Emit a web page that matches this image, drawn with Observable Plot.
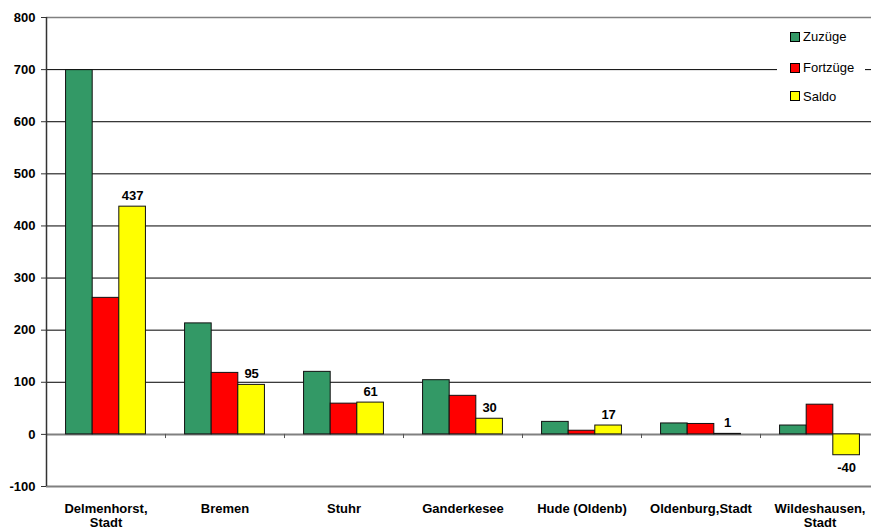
<!DOCTYPE html>
<html>
<head>
<meta charset="utf-8">
<script src="https://cdn.jsdelivr.net/npm/d3@7"></script>
<script src="https://cdn.jsdelivr.net/npm/@observablehq/plot@0.6"></script>
<style>
  html, body { margin: 0; padding: 0; background: #fff; }
  #wrap { position: relative; width: 871px; height: 529px; overflow: hidden; font-family: "Liberation Sans", Arial, sans-serif; }
  #wrap > svg { max-width: none !important; width: 879px !important; height: 529px !important; }
  #legend { position: absolute; left: 777px; top: 20px; width: 88px; height: 95px; background: #fff; }
  .item { position: absolute; left: 13px; height: 14px; display: flex; align-items: center; font-size: 13px; color: #000; }
  .sw { width: 8px; height: 8px; border: 1px solid #000; margin-right: 3px; }
</style>
</head>
<body>
<div id="wrap"></div>
<script>
const categories = ["Delmenhorst, Stadt", "Bremen", "Stuhr", "Ganderkesee", "Hude (Oldenb)", "Oldenburg,Stadt", "Wildeshausen, Stadt"];
const seriesNames = ["Zuzüge", "Fortzüge", "Saldo"];
const zuzuege   = [699, 213, 120, 104, 24, 21, 17];
const fortzuege = [262, 118, 59, 74, 7, 20, 57];
const saldo     = [437, 95, 61, 30, 17, 1, -40];
const colors = ["#339966", "#FF0000", "#FFFF00"];
const yTicks = [-100, 0, 100, 200, 300, 400, 500, 600, 700, 800];

const values = [zuzuege, fortzuege, saldo];
const data = [];
categories.forEach((c, ci) => {
  seriesNames.forEach((s, si) => {
    data.push({category: c, series: s, idx: si, value: values[si][ci]});
  });
});
const saldoData = data.filter(d => d.series === "Saldo");

const xDomain = [-0.735, 3.735];
const font = "Liberation Sans, Arial, sans-serif";

const chart = Plot.plot({
  width: 879,
  height: 529,
  marginLeft: 45,
  marginRight: 0,
  marginTop: 17,
  marginBottom: 43,
  style: {fontFamily: font, fontSize: "13px", background: "#fff", color: "#000", maxWidth: "none"},
  fx: {domain: categories, padding: 0},
  x: {domain: xDomain, axis: null},
  y: {domain: [-100, 800]},
  color: {domain: seriesNames, range: colors},
  marks: [
    Plot.ruleY(yTicks.filter(t => t > 0 && t < 800), {stroke: "#000", strokeWidth: 1}),
    Plot.ruleY([800], {stroke: "#808080", strokeWidth: 1.5}),
    Plot.ruleY([-100], {stroke: "#808080", strokeWidth: 2}),
    Plot.ruleY([0], {stroke: "#808080", strokeWidth: 2}),
    Plot.ruleX(categories.slice(1), {fx: d => d, x: xDomain[0], y1: 0, y2: -8, stroke: "#555", strokeWidth: 1}),
    Plot.ruleX([categories[0]], {fx: d => d, x: xDomain[0], y1: -100, y2: 800, stroke: "#333", strokeWidth: 1.5}),
    Plot.rectY(data, {fx: "category", x1: d => d.idx, x2: d => d.idx + 1, y1: 0, y2: "value", fill: "series", stroke: "#111", strokeWidth: 1}),
    Plot.text(saldoData.filter(d => d.value >= 0), {fx: "category", x: d => d.idx + 0.5, y: "value", text: d => String(d.value), lineAnchor: "bottom", dy: -7, fontWeight: "bold", fontSize: 13, fill: "#000"}),
    Plot.text(saldoData.filter(d => d.value < 0), {fx: "category", x: d => d.idx + 0.5, y: "value", text: d => String(d.value), lineAnchor: "top", dy: 8, fontWeight: "bold", fontSize: 13, fill: "#000"}),
    Plot.axisY({ticks: yTicks, tickSize: 5, tickPadding: 6, fontWeight: "bold", fontSize: 13, stroke: "#333", fill: "#000", label: null, tickFormat: d => String(d)}),
    Plot.axisFx({anchor: "bottom", tickSize: 0, tickPadding: 16, fontWeight: "bold", fontSize: 13, lineHeight: 1.1, fill: "#000", label: null, tickFormat: d => d.replace(", ", ",\n")})
  ]
});

const wrap = document.getElementById("wrap");
wrap.appendChild(chart);

const legend = document.createElement("div");
legend.id = "legend";
const centers = [16.7, 47.7, 76];
seriesNames.forEach((s, i) => {
  const it = document.createElement("div");
  it.className = "item";
  it.style.top = (centers[i] - 7) + "px";
  const sw = document.createElement("div");
  sw.className = "sw";
  sw.style.background = colors[i];
  it.appendChild(sw);
  const t = document.createElement("span");
  t.textContent = s;
  it.appendChild(t);
  legend.appendChild(it);
});
wrap.appendChild(legend);
</script>
</body>
</html>
